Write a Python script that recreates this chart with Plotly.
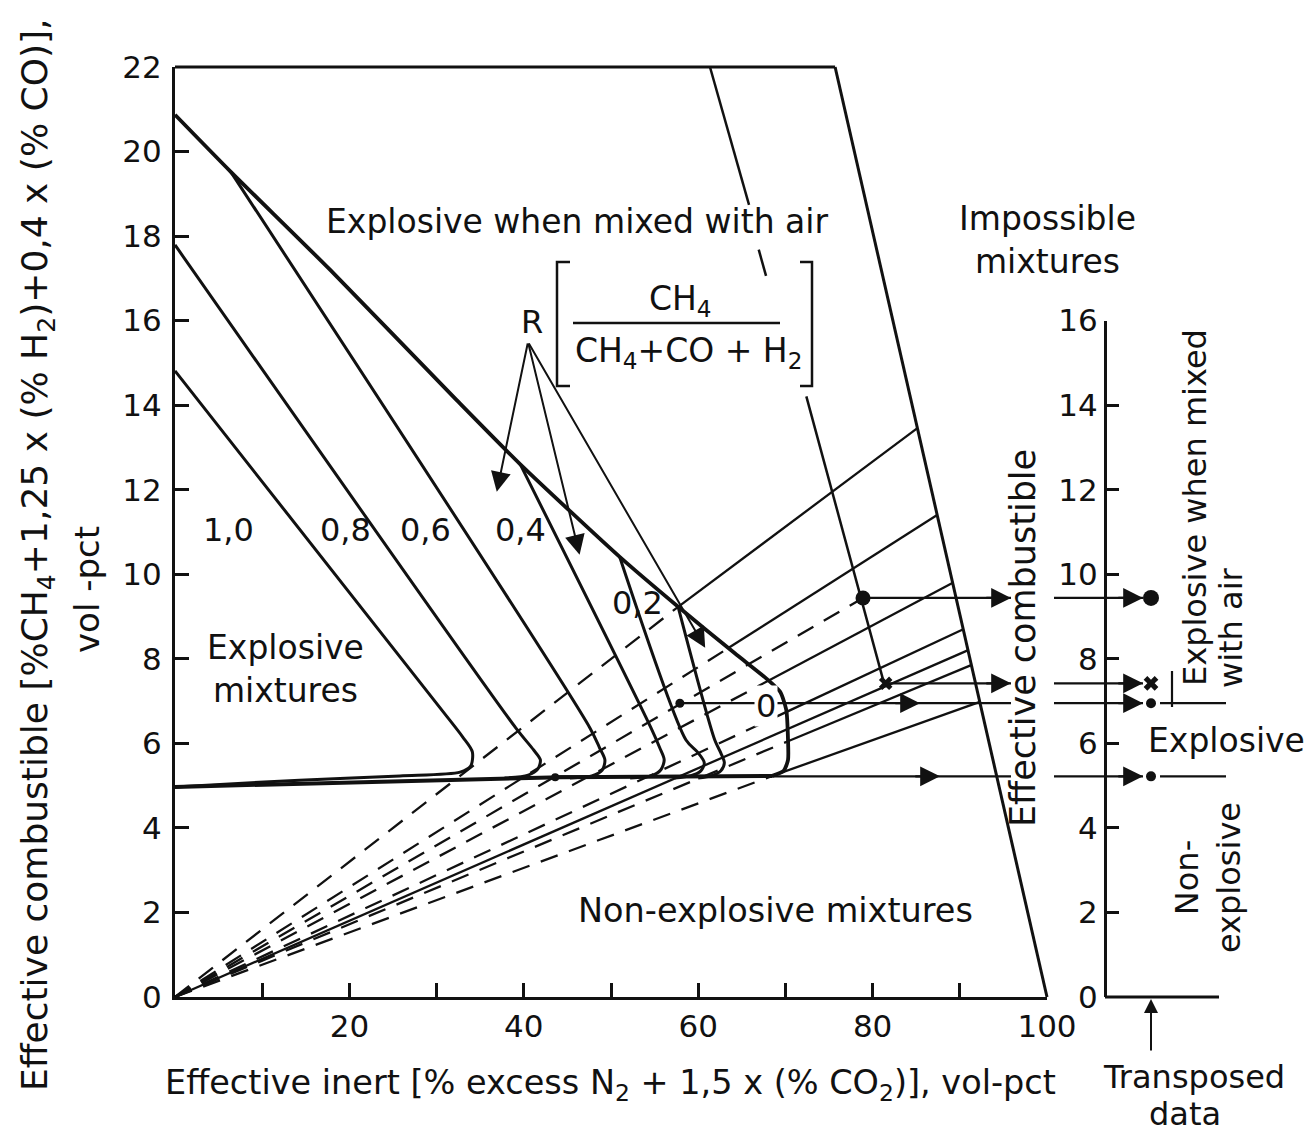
import plotly.graph_objects as go

# ---------------- data (axis units) ----------------
# outer frame of possible mixtures
frame_top_x = [0.0, 75.7]
frame_top_y = [22.0, 22.0]
impossible_x = [75.7, 100.0]
impossible_y = [22.0, 0.0]

# upper envelope ("explosive when mixed with air"), ending in the R = 0 curve
envelope_x = [0.0, 6.4, 17.8, 32.3, 39.6, 51.0, 57.7, 64.2, 67.9, 69.4, 70.1, 70.3, 70.3, 69.8, 68.5]
envelope_y = [20.87, 19.52, 17.2, 14.12, 12.6, 10.41, 9.23, 8.13, 7.52, 7.22, 6.79, 6.08, 5.61, 5.35, 5.23]

# common lower explosive limit
base_x = [0.0, 25.8, 44.2, 68.5]
base_y = [4.97, 5.11, 5.20, 5.23]

# R = CH4/(CH4+CO+H2) curves
r10_x = [0.0, 30.4, 33.0, 34.1, 33.9, 32.7, 25.8, 14.3, 0.0]
r10_y = [14.81, 6.84, 6.15, 5.80, 5.46, 5.32, 5.23, 5.13, 4.97]
r08_x = [0.0, 39.1, 41.1, 41.9, 41.6, 40.5, 37.8]
r08_y = [17.79, 6.36, 5.85, 5.61, 5.39, 5.25, 5.18]
r06_x = [6.4, 47.6, 48.7, 49.3, 49.0, 47.8, 45.3]
r06_y = [19.52, 6.36, 5.89, 5.61, 5.37, 5.23, 5.18]
r04_x = [39.6, 54.6, 55.6, 56.1, 55.7, 54.6, 52.2]
r04_y = [12.6, 6.36, 5.89, 5.61, 5.37, 5.23, 5.18]
r02_x = [51.0, 58.6, 59.9, 60.7, 60.3, 59.1, 57.3]
r02_y = [10.41, 6.08, 5.80, 5.54, 5.35, 5.23, 5.18]
r01_x = [57.7, 61.9, 62.6, 63.0, 62.6, 61.5, 60.0]
r01_y = [9.23, 6.08, 5.77, 5.54, 5.35, 5.23, 5.18]
curve_labels = ["1,0", "0,8", "0,6", "0,4", "0,2", "0"]

# air-dilution lines from the origin: dashed up to the break, solid beyond
fan_break_x = [57.7, 63.5, 78.9, 68.2, 70.2, 0.0, 70.3, 68.5]
fan_break_y = [9.23, 8.26, 9.44, 7.50, 6.75, 0.0, 6.05, 5.23]
fan_end_x = [85.1, 87.4, 78.9, 89.2, 90.4, 90.9, 91.3, 92.3]
fan_end_y = [13.45, 11.40, 9.44, 9.80, 8.70, 8.20, 7.85, 6.98]

# second slanted boundary (interrupted by the texts)
second_x = [61.35, 65.83, None, 66.94, 67.78, None, 72.4, 81.3]
second_y = [22.0, 18.74, None, 17.68, 17.06, None, 14.21, 7.43]

# analysed points and their transposition to the right-hand scale
point_x = [78.9, 81.5, 57.9, 43.6]
point_y = [9.44, 7.42, 6.95, 5.20]
point_symbol = ["circle", "x", "circle", "circle"]
point_size = [15, 12, 9, 8]
transp_y = [9.44, 7.42, 6.95, 5.22]
transp_mark_size = [16, 13, 10, 10]

x_ticks = [10, 20, 30, 40, 50, 60, 70, 80, 90, 100]
x_ticktext = ["", "20", "", "40", "", "60", "", "80", "", "100"]
y_ticks = [0, 2, 4, 6, 8, 10, 12, 14, 16, 18, 20, 22]
r_ticks = [0, 2, 4, 6, 8, 10, 12, 14, 16]

# ---------------- geometry of the page ----------------
W, H = 1314, 1135
PX_X0, PX_X100 = 175, 1047
PX_Y0, PX_Y22 = 997, 67
SX = (PX_X100 - PX_X0) / 100.0
SY = (PX_Y0 - PX_Y22) / 22.0


def gx(p):
    return (p - PX_X0) / SX


def gy(p):
    return (PX_Y0 - p) / SY


FONT = "DejaVu Sans, Verdana, sans-serif"
INK = "#111111"
FS = 33

fig = go.Figure()


def add_line(x, y, width=2.5, dash="solid", shape="linear", smoothing=None):
    ln = dict(color=INK, width=width, dash=dash, shape=shape)
    if smoothing is not None:
        ln["smoothing"] = smoothing
    fig.add_trace(go.Scatter(x=x, y=y, mode="lines", xaxis="x2", yaxis="y2",
                             line=ln, hoverinfo="skip", showlegend=False,
                             connectgaps=False))


# dummy traces so every axis gets drawn
fig.add_trace(go.Scatter(x=[None], y=[None], xaxis="x", yaxis="y", showlegend=False))
fig.add_trace(go.Scatter(x=[None], y=[None], xaxis="x2", yaxis="y3", showlegend=False))

# frame
add_line(frame_top_x, frame_top_y, 3)
add_line(impossible_x, impossible_y, 3)
add_line(second_x, second_y, 2.5)

# fan lines
for bx, by, ex, ey in zip(fan_break_x, fan_break_y, fan_end_x, fan_end_y):
    if bx > 0:
        add_line([0, bx], [0, by], 2.3, dash="18px,12px")
    if ex != bx:
        add_line([bx, ex], [by, ey], 2.3)

# base and curves
add_line(base_x, base_y, 4)
for cx, cy in [(r10_x, r10_y), (r08_x, r08_y), (r06_x, r06_y),
               (r04_x, r04_y), (r02_x, r02_y), (r01_x, r01_y)]:
    add_line(cx, cy, 3, shape="spline", smoothing=0.8)
add_line(envelope_x, envelope_y, 3.8, shape="spline", smoothing=0.6)

# transposition lines
RIGHT_AXIS_X = gx(1105)
MARK_X = gx(1151)
LEFT_END = gx(1011)
RIGHT_START = gx(1054)
RIGHT_TIP = gx(1143)
for sx_, ty in zip(point_x, transp_y):
    add_line([sx_, LEFT_END], [ty, ty], 2.2)
    add_line([RIGHT_START, RIGHT_TIP], [ty, ty], 2.2)
for ty in transp_y[2:]:
    add_line([gx(1160), gx(1226)], [ty, ty], 2.2)
add_line([gx(1172), gx(1172)], [gy(707), gy(671)], 2.2)
add_line([RIGHT_AXIS_X, gx(1219)], [0, 0], 3)

# points
fig.add_trace(go.Scatter(x=point_x, y=point_y, mode="markers", xaxis="x2", yaxis="y2",
                         marker=dict(symbol=point_symbol, size=point_size, color=INK,
                                     opacity=1, line=dict(width=0, color=INK)),
                         hoverinfo="skip", showlegend=False))
fig.add_trace(go.Scatter(x=[MARK_X] * len(transp_y), y=transp_y, mode="markers",
                         xaxis="x2", yaxis="y2",
                         marker=dict(symbol=point_symbol, size=transp_mark_size, color=INK,
                                     opacity=1, line=dict(width=0, color=INK)),
                         hoverinfo="skip", showlegend=False))

annotations = []


def arrow(x_tip, y_tip, x_tail, y_tail, size=1.8, width=2.2):
    annotations.append(dict(x=x_tip, y=y_tip, ax=x_tail, ay=y_tail, xref="x2", yref="y2",
                            axref="x2", ayref="y2", showarrow=True, arrowhead=2,
                            arrowsize=size, arrowwidth=width, arrowcolor=INK, text=""))


# arrowheads on the transposition lines
mid_tips = [LEFT_END, LEFT_END, gx(920), gx(940)]
for tip, ty in zip(mid_tips, transp_y):
    arrow(tip, ty, tip - 3, ty)
    arrow(RIGHT_TIP, ty, RIGHT_TIP - 3, ty)
# R arrows
R_tail = (gx(528), gy(342))
for tx, ty in [(36.9, 11.95), (46.4, 10.46), (60.8, 8.26)]:
    arrow(tx, ty, R_tail[0], R_tail[1], size=2.0, width=2)
# transposed-data arrow
arrow(MARK_X, gy(999), MARK_X, gy(1052), size=1.4, width=2)


def label(text, px, py, size=FS, angle=0, bg=None, align="center"):
    d = dict(text=text, x=gx(px), y=gy(py), xref="x2", yref="y2", showarrow=False,
             font=dict(family=FONT, size=size, color=INK), textangle=angle, align=align)
    if bg:
        d["bgcolor"] = bg
    annotations.append(d)


label("Explosive when mixed with air", 577, 221)
label("Impossible<br>mixtures", 1047, 240)
label("R", 532, 322, 32)
label("CH<sub>4</sub>", 680, 300)
label("CH<sub>4</sub>+CO + H<sub>2</sub>", 688, 352)
for txt, px_, py_ in zip(curve_labels, [228, 345, 425, 520, 637, 766], [530, 530, 530, 530, 603, 706]):
    label(txt, px_, py_, 32, bg="white" if txt == "0" else None)
label("Explosive<br>mixtures", 285, 669)
label("Non-explosive mixtures", 775, 910, 33.5)
label("Effective combustible", 1023, 638, 35, angle=-90)
label("Explosive when mixed", 1195, 508, 32, angle=-90)
label("with air", 1231, 628, 32, angle=-90)
label("Explosive", 1226, 740)
label("Non-<br>explosive", 1208, 878, 32, angle=-90)
label("Transposed", 1194, 1077, 32)
label("data", 1185, 1114, 32)
label("Effective inert [% excess N<sub>2</sub> + 1,5 x (% CO<sub>2</sub>)], vol-pct", 610, 1085, 33.5)
label("Effective combustible [%CH<sub>4</sub>+1,25 x (% H<sub>2</sub>)+0,4 x (% CO)],", 37, 555, 36, angle=-90)
label("vol -pct", 87, 590, 34, angle=-90)

shapes = []
for path in [
    [(570, 262), (557, 262), (557, 386), (570, 386)],
    [(800, 262), (812, 262), (812, 386), (800, 386)],
    [(573, 323), (780, 323)],
]:
    xs = [gx(p[0]) for p in path]
    ys = [gy(p[1]) for p in path]
    d = "M " + " L ".join(f"{a},{b}" for a, b in zip(xs, ys))
    shapes.append(dict(type="path", path=d, xref="x2", yref="y2",
                       line=dict(color=INK, width=2.5)))

axis_common = dict(showgrid=False, zeroline=False, showline=True, linecolor=INK,
                   linewidth=3, ticks="inside", ticklen=14, tickwidth=3, tickcolor=INK,
                   tickfont=dict(family=FONT, size=31, color=INK), fixedrange=True,
                   automargin=False)

fig.update_layout(
    template="none",
    width=W, height=H, margin=dict(l=0, r=0, t=0, b=0, pad=0, autoexpand=False),
    paper_bgcolor="white", plot_bgcolor="rgba(0,0,0,0)", showlegend=False,
    font=dict(family=FONT, size=FS, color=INK),
    xaxis=dict(domain=[PX_X0 / W, PX_X100 / W], range=[0, 100], anchor="y",
               tickmode="array", tickvals=x_ticks, ticktext=x_ticktext,
               ticklabelstandoff=0, **axis_common),
    yaxis=dict(domain=[(H - PX_Y0) / H, (H - PX_Y22) / H], range=[0, 22], anchor="x",
               tickmode="array", tickvals=y_ticks, ticktext=[str(v) for v in y_ticks],
               ticklabelstandoff=4, **axis_common),
    xaxis2=dict(domain=[0, 1], range=[gx(0), gx(W)], visible=False, anchor="y2",
                fixedrange=True, automargin=False),
    yaxis2=dict(domain=[0, 1], range=[gy(H), gy(0)], visible=False, anchor="x2",
                fixedrange=True, automargin=False),
    yaxis3=dict(domain=[(H - PX_Y0) / H, (H - (PX_Y0 - 16 * SY)) / H], range=[0, 16],
                anchor="free", position=1105 / W, tickmode="array", tickvals=r_ticks,
                ticktext=[str(v) for v in r_ticks], ticklabelstandoff=0,
                **{**axis_common, "ticklen": 12}),
    annotations=annotations,
    shapes=shapes,
)

fig.write_html("out.html")
